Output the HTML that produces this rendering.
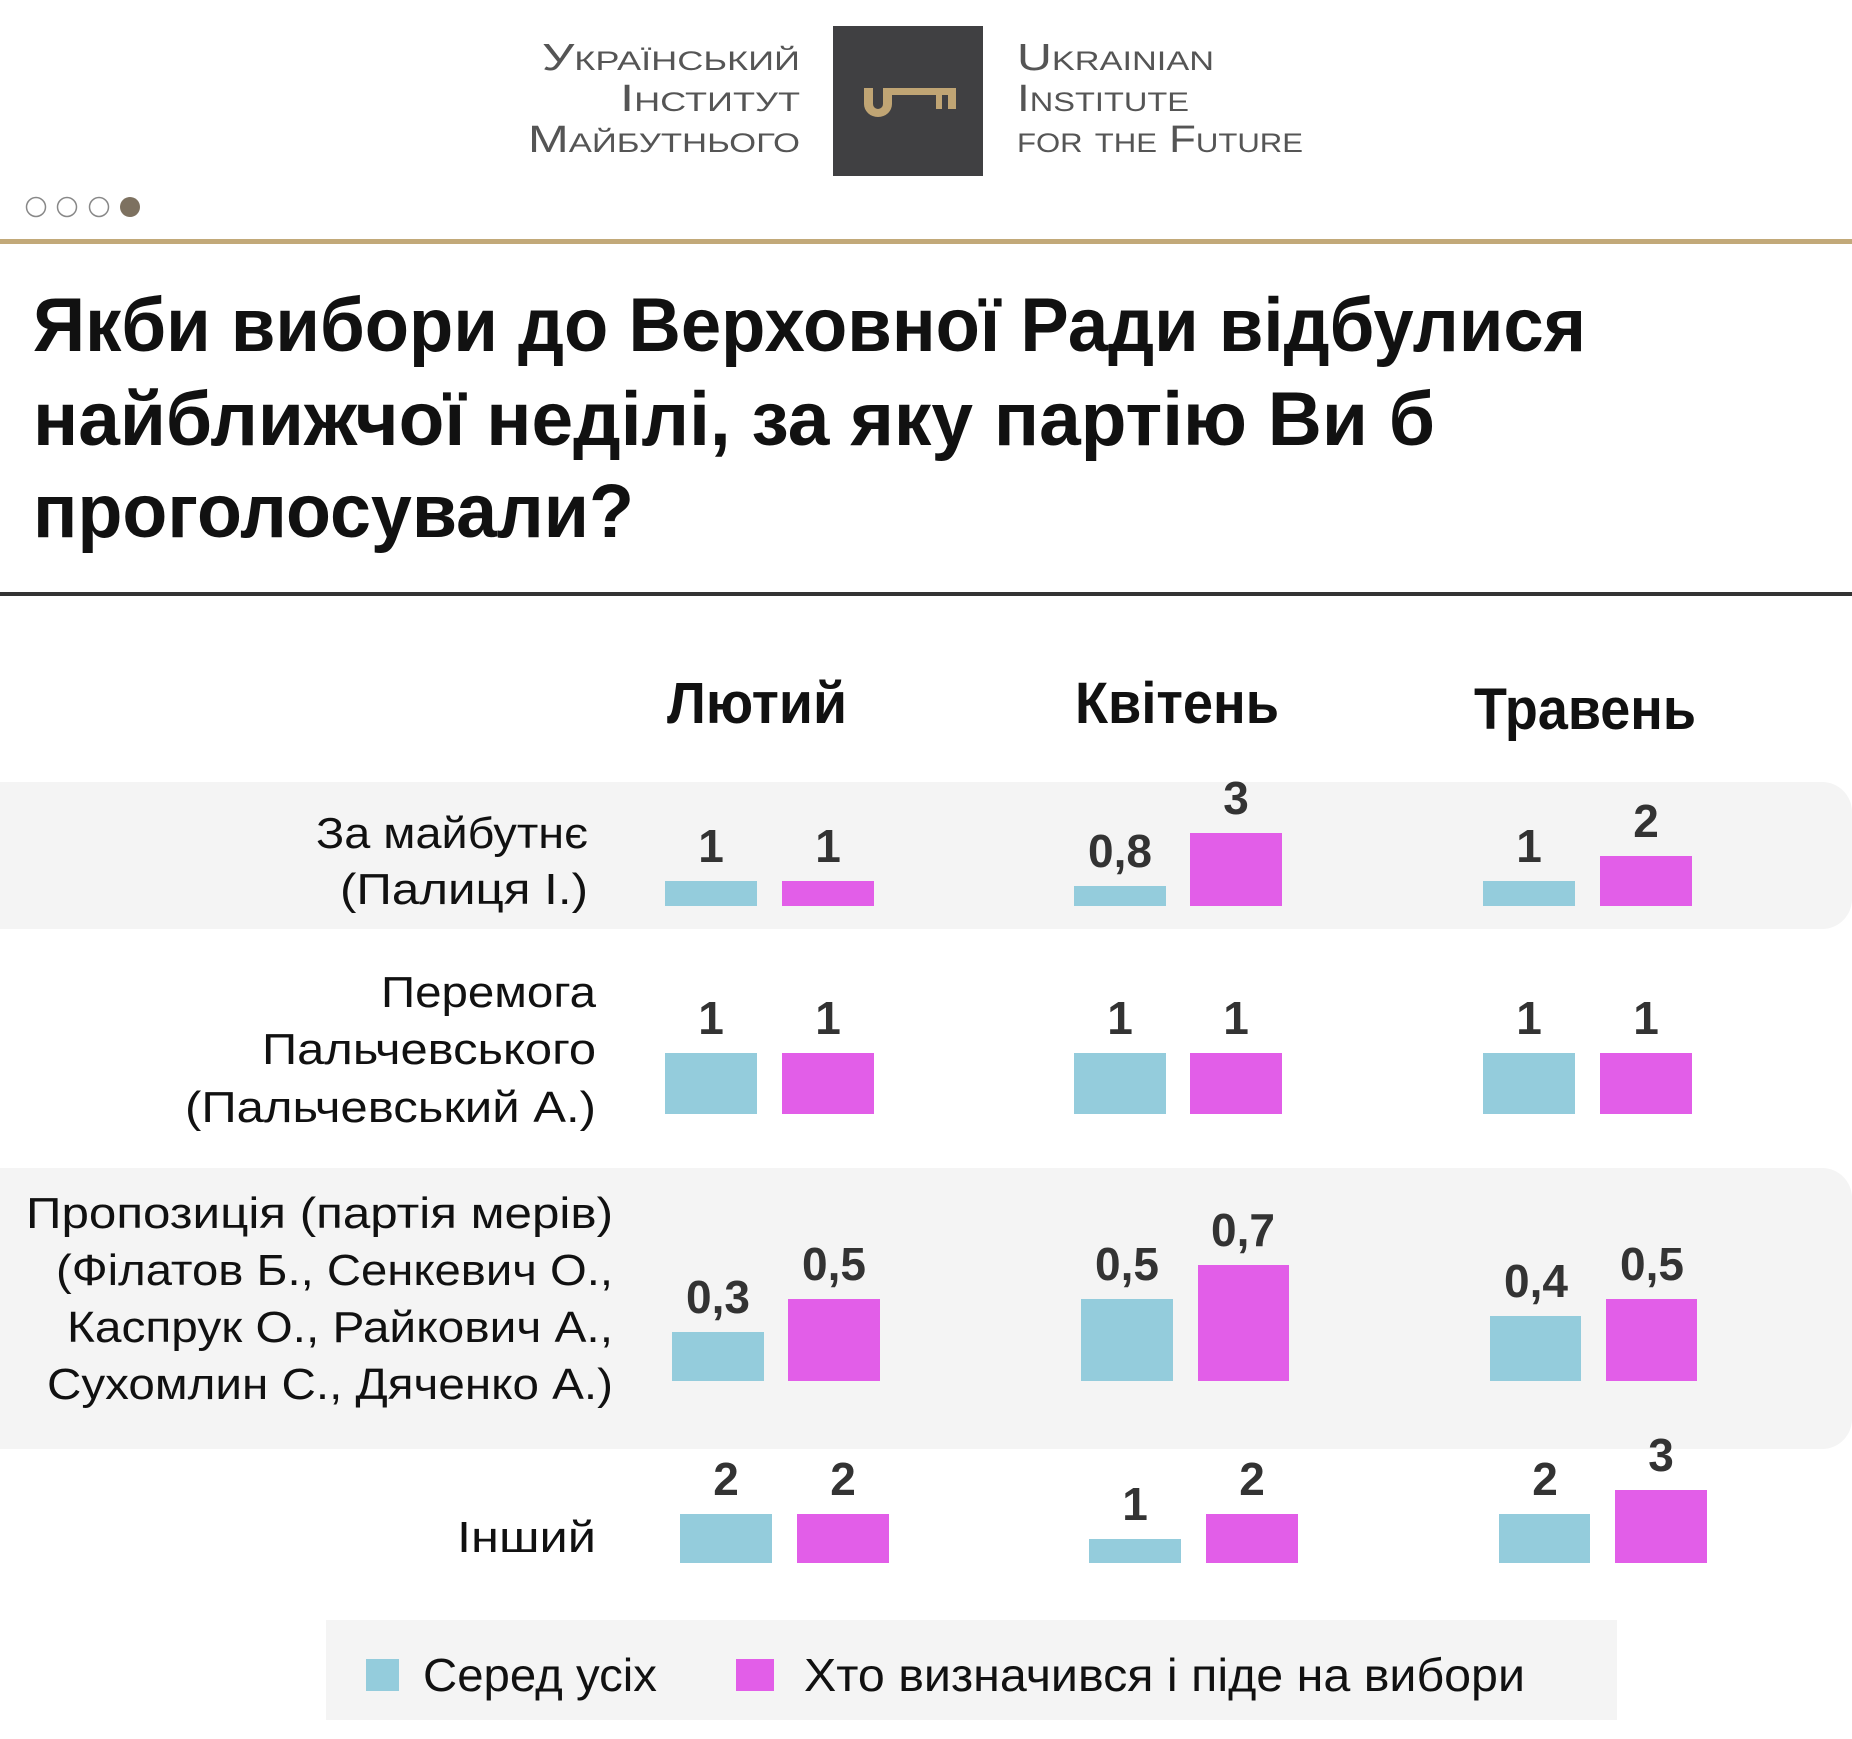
<!DOCTYPE html>
<html><head><meta charset="utf-8"><style>
html,body{margin:0;padding:0;background:#fff;}
svg{display:block;}
text{font-family:"Liberation Sans","DejaVu Sans",sans-serif;}
</style></head><body>
<svg width="1852" height="1739" viewBox="0 0 1852 1739" xmlns="http://www.w3.org/2000/svg">
<rect width="1852" height="1739" fill="#fff"/>
<g fill="#555" font-size="38" font-variant="small-caps" text-anchor="end">
<text x="800" y="70" textLength="258" lengthAdjust="spacingAndGlyphs">Український</text>
<text x="800" y="111" textLength="180" lengthAdjust="spacingAndGlyphs">Інститут</text>
<text x="800" y="152" textLength="272" lengthAdjust="spacingAndGlyphs">Майбутнього</text>
</g>
<g fill="#555" font-size="38" font-variant="small-caps">
<text x="1017" y="70" textLength="197" lengthAdjust="spacingAndGlyphs">Ukrainian</text>
<text x="1017" y="111" textLength="172" lengthAdjust="spacingAndGlyphs">Institute</text>
<text x="1017" y="152" textLength="286" lengthAdjust="spacingAndGlyphs">for the Future</text>
</g>
<rect x="833" y="26" width="150" height="150" fill="#404042"/>
<g fill="#c0a574">
<path d="M864 88 h9 v16 a5 5 0 0 0 10 0 v-16 h9 v16 a14 13 0 0 1 -28 0 z"/>
<rect x="891" y="88" width="65" height="7"/>
<rect x="948" y="88" width="8" height="21"/>
<rect x="936" y="88" width="6" height="21"/>
</g>
<g stroke="#888" stroke-width="1.5" fill="#fff">
<circle cx="36" cy="207" r="9.5"/><circle cx="67" cy="207" r="9.5"/><circle cx="99" cy="207" r="9.5"/>
</g>
<circle cx="130" cy="207" r="10" fill="#7d7160"/>
<rect x="0" y="239" width="1852" height="5" fill="#c2a979"/>
<g font-size="76" font-weight="bold" fill="#111">
<text x="33" y="351" textLength="1553" lengthAdjust="spacingAndGlyphs">Якби вибори до Верховної Ради відбулися</text>
<text x="33" y="445" textLength="1402" lengthAdjust="spacingAndGlyphs">найближчої неділі, за яку партію Ви б</text>
<text x="33" y="537" textLength="601" lengthAdjust="spacingAndGlyphs">проголосували?</text>
</g>
<rect x="0" y="592" width="1852" height="4" fill="#333"/>
<g font-size="58" font-weight="bold" fill="#111">
<text x="667" y="723" textLength="180" lengthAdjust="spacingAndGlyphs">Лютий</text>
<text x="1075" y="723" textLength="204" lengthAdjust="spacingAndGlyphs">Квітень</text>
<text x="1474" y="729" textLength="222" lengthAdjust="spacingAndGlyphs">Травень</text>
</g>
<rect x="-30" y="782" width="1882" height="147" rx="30" fill="#f4f4f4"/>
<rect x="-30" y="1168" width="1882" height="281" rx="30" fill="#f4f4f4"/>
<g font-size="44" fill="#111" text-anchor="end">
<text x="588" y="848" textLength="272" lengthAdjust="spacingAndGlyphs">За майбутнє</text>
<text x="588" y="904" textLength="248" lengthAdjust="spacingAndGlyphs">(Палиця І.)</text>
<text x="596" y="1007" textLength="215" lengthAdjust="spacingAndGlyphs">Перемога</text>
<text x="596" y="1064" textLength="334" lengthAdjust="spacingAndGlyphs">Пальчевського</text>
<text x="596" y="1122" textLength="411" lengthAdjust="spacingAndGlyphs">(Пальчевський А.)</text>
<text x="613" y="1228" textLength="587" lengthAdjust="spacingAndGlyphs">Пропозиція (партія мерів)</text>
<text x="613" y="1285" textLength="557" lengthAdjust="spacingAndGlyphs">(Філатов Б., Сенкевич О.,</text>
<text x="613" y="1342" textLength="546" lengthAdjust="spacingAndGlyphs">Каспрук О., Райкович А.,</text>
<text x="613" y="1399" textLength="566" lengthAdjust="spacingAndGlyphs">Сухомлин С., Дяченко А.)</text>
<text x="596" y="1552" textLength="139" lengthAdjust="spacingAndGlyphs">Інший</text>
</g>
<g>
<rect x="665" y="881" width="92" height="25" fill="#94ccdc"/>
<rect x="782" y="881" width="92" height="25" fill="#e25ee8"/>
<rect x="1074" y="886" width="92" height="20" fill="#94ccdc"/>
<rect x="1190" y="833" width="92" height="73" fill="#e25ee8"/>
<rect x="1483" y="881" width="92" height="25" fill="#94ccdc"/>
<rect x="1600" y="856" width="92" height="50" fill="#e25ee8"/>
<rect x="665" y="1053" width="92" height="61" fill="#94ccdc"/>
<rect x="782" y="1053" width="92" height="61" fill="#e25ee8"/>
<rect x="1074" y="1053" width="92" height="61" fill="#94ccdc"/>
<rect x="1190" y="1053" width="92" height="61" fill="#e25ee8"/>
<rect x="1483" y="1053" width="92" height="61" fill="#94ccdc"/>
<rect x="1600" y="1053" width="92" height="61" fill="#e25ee8"/>
<rect x="672" y="1332" width="92" height="49" fill="#94ccdc"/>
<rect x="788" y="1299" width="92" height="82" fill="#e25ee8"/>
<rect x="1081" y="1299" width="92" height="82" fill="#94ccdc"/>
<rect x="1198" y="1265" width="91" height="116" fill="#e25ee8"/>
<rect x="1490" y="1316" width="91" height="65" fill="#94ccdc"/>
<rect x="1606" y="1299" width="91" height="82" fill="#e25ee8"/>
<rect x="680" y="1514" width="92" height="49" fill="#94ccdc"/>
<rect x="797" y="1514" width="92" height="49" fill="#e25ee8"/>
<rect x="1089" y="1539" width="92" height="24" fill="#94ccdc"/>
<rect x="1206" y="1514" width="92" height="49" fill="#e25ee8"/>
<rect x="1499" y="1514" width="91" height="49" fill="#94ccdc"/>
<rect x="1615" y="1490" width="92" height="73" fill="#e25ee8"/>
</g>
<g font-size="46" font-weight="bold" fill="#333" text-anchor="middle">
<text x="711" y="862">1</text><text x="828" y="862">1</text>
<text x="1120" y="867">0,8</text><text x="1236" y="814">3</text>
<text x="1529" y="862">1</text><text x="1646" y="837">2</text>
<text x="711" y="1034">1</text><text x="828" y="1034">1</text>
<text x="1120" y="1034">1</text><text x="1236" y="1034">1</text>
<text x="1529" y="1034">1</text><text x="1646" y="1034">1</text>
<text x="718" y="1313">0,3</text><text x="834" y="1280">0,5</text>
<text x="1127" y="1280">0,5</text><text x="1243" y="1246">0,7</text>
<text x="1536" y="1297">0,4</text><text x="1652" y="1280">0,5</text>
<text x="726" y="1495">2</text><text x="843" y="1495">2</text>
<text x="1135" y="1520">1</text><text x="1252" y="1495">2</text>
<text x="1545" y="1495">2</text><text x="1661" y="1471">3</text>
</g>
<rect x="326" y="1620" width="1291" height="100" fill="#f4f4f4"/>
<rect x="366" y="1659" width="33" height="32" fill="#94ccdc"/>
<rect x="736" y="1659" width="38" height="32" fill="#e25ee8"/>
<g font-size="46" fill="#111">
<text x="423" y="1691" textLength="234" lengthAdjust="spacingAndGlyphs">Серед усіх</text>
<text x="804" y="1691" textLength="721" lengthAdjust="spacingAndGlyphs">Хто визначився і піде на вибори</text>
</g>
</svg>
</body></html>
